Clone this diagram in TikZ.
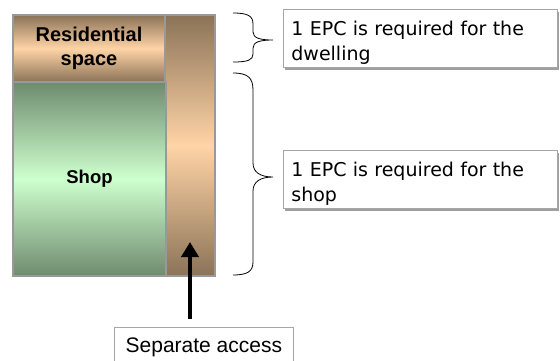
\documentclass[tikz,border=0pt]{standalone}
\usepackage{fontspec}
\setmainfont{Liberation Sans}
\newfontfamily\verdana{DejaVu Sans}
\usetikzlibrary{arrows.meta,shadows}
\definecolor{browndark}{RGB}{139,115,88}
\definecolor{peach}{RGB}{255,212,166}
\definecolor{greendark}{RGB}{110,139,110}
\definecolor{greenlight}{RGB}{206,255,206}
\newcommand{\topstrut}{\rule{0pt}{24pt}}
\newcommand{\botstrut}{\rule[-5pt]{0pt}{5pt}}
\tikzset{
  room/.style={draw=gray!80, line width=1.5pt, inner sep=0pt},
  note/.style={draw=gray!70, line width=0.8pt, fill=white, anchor=north west,
    text width=258pt, inner xsep=8pt, inner ysep=2pt, align=left,
    font=\verdana\fontsize{19}{25}\selectfont,
    drop shadow={shadow xshift=2pt, shadow yshift=-3pt, fill=gray!75, opacity=1}},
  brace/.style={line width=0.8pt}
}
\begin{document}
\begin{tikzpicture}[x=1pt,y=-1pt]
\useasboundingbox (0,0) rectangle (560,360);
% rooms
\node[room, minimum width=50pt, minimum height=261pt, top color=browndark, bottom color=browndark, middle color=peach] (access) at (190,145.5){};
\node[room, minimum width=152pt, minimum height=67pt, top color=browndark, bottom color=browndark, middle color=peach, align=center, font=\bfseries\fontsize{20}{24}\selectfont] (res) at (89,48.5){Residential\\space};
\node[room, minimum width=153pt, minimum height=194pt, top color=greendark, bottom color=greendark, middle color=greenlight, font=\bfseries\fontsize{18.5}{22}\selectfont] (shop) at (89.5,179){Shop};
% notes
\node[note] (noteres) at (283,9){\topstrut 1 EPC is required for the dwelling\botstrut};
\node[note] (noteshop) at (283,150){\topstrut 1 EPC is required for the shop\botstrut};
% braces
\draw[brace] (233,13) .. controls (248,13) and (253,16) .. (253,24) -- (253,32) .. controls (253,38) and (260,40) .. (273,40)
  .. controls (260,40) and (253,42) .. (253,48) -- (253,54) .. controls (253,60) and (248,62) .. (233,62);
\draw[brace] (233,73) .. controls (248,73) and (253,78) .. (253,90) -- (253,163) .. controls (253,172) and (260,177) .. (273,177)
  .. controls (260,177) and (253,182) .. (253,191) -- (253,262) .. controls (253,271) and (248,275) .. (233,275);
% separate access
\node[draw=gray!70, line width=0.8pt, fill=white, anchor=north west, minimum width=179pt, minimum height=40pt, inner sep=0pt, font=\fontsize{21}{25}\selectfont] (sep) at (114,327){\raisebox{4pt}{Separate access}};
\coordinate (tail) at (190,319);
\coordinate (head) at (190,242);
\draw[line width=4pt, -{Triangle[length=15pt,width=17pt]}] (tail) -- (head);
\end{tikzpicture}
\end{document}
